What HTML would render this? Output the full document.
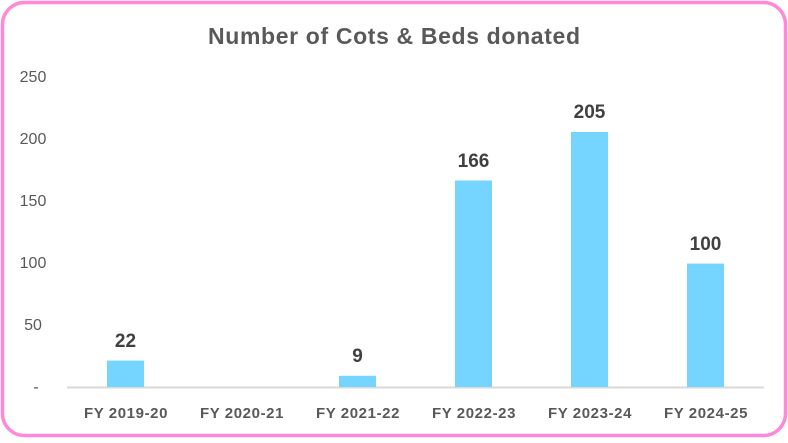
<!DOCTYPE html>
<html><head><style>
body{margin:0;width:788px;height:438px;background:#fff;overflow:hidden}
</style></head><body>
<svg width="788" height="438" xmlns="http://www.w3.org/2000/svg" font-family="Liberation Sans, sans-serif">
<rect x="2.5" y="2.5" width="783" height="433" rx="22" fill="#fff" stroke="#ff88d8" stroke-width="3.5"/>
<text x="394" y="44" text-anchor="middle" font-size="23" font-weight="bold" fill="#595959" textLength="372">Number of Cots &amp; Beds donated</text>
<g font-size="16" fill="#595959" text-anchor="middle">
<text x="33" y="82">250</text>
<text x="33" y="144">200</text>
<text x="33" y="206">150</text>
<text x="33" y="268">100</text>
<text x="33" y="330">50</text>
<text x="36" y="392">-</text>
</g>
<line x1="67" y1="387.5" x2="764" y2="387.5" stroke="#d9d9d9" stroke-width="2"/>
<g fill="#75d5ff">
<rect x="107" y="360.6" width="37" height="26.4"/>
<rect x="339" y="375.8" width="37" height="11.2"/>
<rect x="455" y="180.5" width="37" height="206.5"/>
<rect x="571" y="132" width="37" height="255"/>
<rect x="687" y="263.6" width="37" height="123.4"/>
</g>
<g font-size="19" font-weight="bold" fill="#404040" text-anchor="middle">
<text x="125.5" y="347">22</text>
<text x="357.5" y="362">9</text>
<text x="473.5" y="167">166</text>
<text x="589.5" y="118">205</text>
<text x="705.5" y="250">100</text>
</g>
<g font-size="15" font-weight="bold" fill="#595959" text-anchor="middle" letter-spacing="0.6">
<text x="126" y="418">FY 2019-20</text>
<text x="242" y="418">FY 2020-21</text>
<text x="358" y="418">FY 2021-22</text>
<text x="474" y="418">FY 2022-23</text>
<text x="590" y="418">FY 2023-24</text>
<text x="706" y="418">FY 2024-25</text>
</g>
</svg>
</body></html>
